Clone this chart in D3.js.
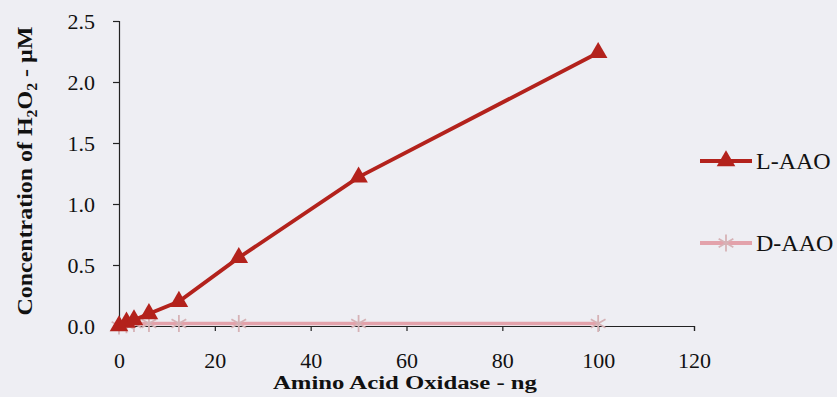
<!DOCTYPE html>
<html>
<head>
<meta charset="utf-8">
<script src="https://cdn.jsdelivr.net/npm/d3@7"></script>
<style>
  html, body { margin: 0; padding: 0; background: #eeeef3; }
  svg { display: block; }
  svg text { font-family: "Liberation Serif", "Times New Roman", serif !important; fill: #111; }
</style>
</head>
<body>
<svg id="chart" width="837" height="397"></svg>
<script>
// Enzyme amount (ng) and H2O2 produced (µM)
const amounts = [0, 1.5625, 3.125, 6.25, 12.5, 25, 50, 100];
const lAAO = [0.0, 0.03, 0.05, 0.1, 0.2, 0.56, 1.22, 2.24];
const dAAO = [0.0, 0.01, 0.02, 0.02, 0.02, 0.02, 0.02, 0.02];
const xTicks = [0, 20, 40, 60, 80, 100, 120];
const yTicks = [0.0, 0.5, 1.0, 1.5, 2.0, 2.5];
const seriesNames = ["L-AAO", "D-AAO"];

const svg = d3.select("#chart");
const x = d3.scaleLinear().domain([0, 120]).range([119, 694]);
const y = d3.scaleLinear().domain([0, 2.5]).range([326, 21]);

// Axes
const xAxis = d3.axisBottom(x).tickValues(xTicks).tickSize(5).tickSizeOuter(5).tickFormat(d3.format("d"));
const yAxis = d3.axisLeft(y).tickValues(yTicks).tickSize(6).tickSizeOuter(6).tickFormat(d3.format(".1f"));

const gx = svg.append("g").attr("transform", `translate(0,${y(0)})`).call(xAxis);
gx.selectAll("text").attr("font-size", 22).attr("y", 0).attr("dy", 42);
const gy = svg.append("g").attr("transform", `translate(${x(0)},0)`).call(yAxis);
gy.selectAll("text").attr("font-size", 22).attr("x", -24).attr("dy", "0.33em");
svg.selectAll(".domain, .tick line").attr("stroke", "#222").attr("stroke-width", 1.2);
svg.selectAll(".tick text").attr("fill", "#111");

// Axis titles
svg.append("text")
  .attr("x", 405).attr("y", 389)
  .attr("text-anchor", "middle")
  .attr("font-size", 19).attr("font-weight", "bold")
  .attr("textLength", 264).attr("lengthAdjust", "spacingAndGlyphs")
  .text("Amino Acid Oxidase - ng");

const yt = svg.append("text")
  .attr("transform", "translate(32,171) rotate(-90) scale(1.14,1)")
  .attr("text-anchor", "middle")
  .attr("font-size", 21).attr("font-weight", "bold");
yt.append("tspan").text("Concentration of H");
yt.append("tspan").attr("font-size", 14).attr("dy", 5).text("2");
yt.append("tspan").attr("dy", -5).text("O");
yt.append("tspan").attr("font-size", 14).attr("dy", 5).text("2");
yt.append("tspan").attr("dy", -5).text(" - µM");

// Six-spoked star: a vertical stroke crossed by an X
const starType = {
  draw(ctx, size) {
    const r = Math.sqrt(size) * 0.6;
    [90, 30, 150].forEach(deg => {
      const a = deg * Math.PI / 180;
      ctx.moveTo(r * Math.cos(a), -r * Math.sin(a));
      ctx.lineTo(-r * Math.cos(a), r * Math.sin(a));
    });
  }
};

const line = d3.line().x(d => x(d[0])).y(d => y(d[1]));
const triangle = d3.symbol().type(d3.symbolTriangle).size(150);
const star = d3.symbol().type(starType).size(200);

const dColor = "#e3a2ab";
const dMark = "#d6b2b6";
const lColor = "#b3221c";

// D-AAO series (drawn first, sits underneath)
const dPts = amounts.map((a, i) => [a, dAAO[i]]);
svg.append("path").datum(dPts).attr("d", line)
  .attr("fill", "none").attr("stroke", dColor).attr("stroke-width", 3.5);
svg.selectAll(".dmark").data(dPts).enter().append("path")
  .attr("class", "dmark")
  .attr("transform", d => `translate(${x(d[0])},${y(d[1])})`)
  .attr("d", star)
  .attr("fill", "none").attr("stroke", dMark).attr("stroke-width", 1.8);

// L-AAO series
const lPts = amounts.map((a, i) => [a, lAAO[i]]);
svg.append("path").datum(lPts).attr("d", line)
  .attr("fill", "none").attr("stroke", lColor).attr("stroke-width", 3.8);
svg.selectAll(".lmark").data(lPts).enter().append("path")
  .attr("class", "lmark")
  .attr("transform", d => `translate(${x(d[0])},${y(d[1])})`)
  .attr("d", triangle)
  .attr("fill", lColor);

// Legend
const legend = [
  { name: seriesNames[0], y: 161, color: lColor, shape: triangle, fill: lColor, stroke: "none" },
  { name: seriesNames[1], y: 243, color: dColor, shape: star, fill: "none", stroke: dMark }
];
const lg = svg.selectAll(".lg").data(legend).enter().append("g").attr("class", "lg");
lg.append("line")
  .attr("x1", 700).attr("x2", 752)
  .attr("y1", d => d.y).attr("y2", d => d.y)
  .attr("stroke", d => d.color).attr("stroke-width", 3.8);
lg.append("path")
  .attr("transform", d => `translate(726,${d.y})`)
  .attr("d", d => d.shape())
  .attr("fill", d => d.fill).attr("stroke", d => d.stroke).attr("stroke-width", 1.8);
lg.append("text")
  .attr("x", 756).attr("y", d => d.y).attr("dy", "0.35em")
  .attr("font-size", 24)
  .text(d => d.name);
</script>
</body>
</html>
